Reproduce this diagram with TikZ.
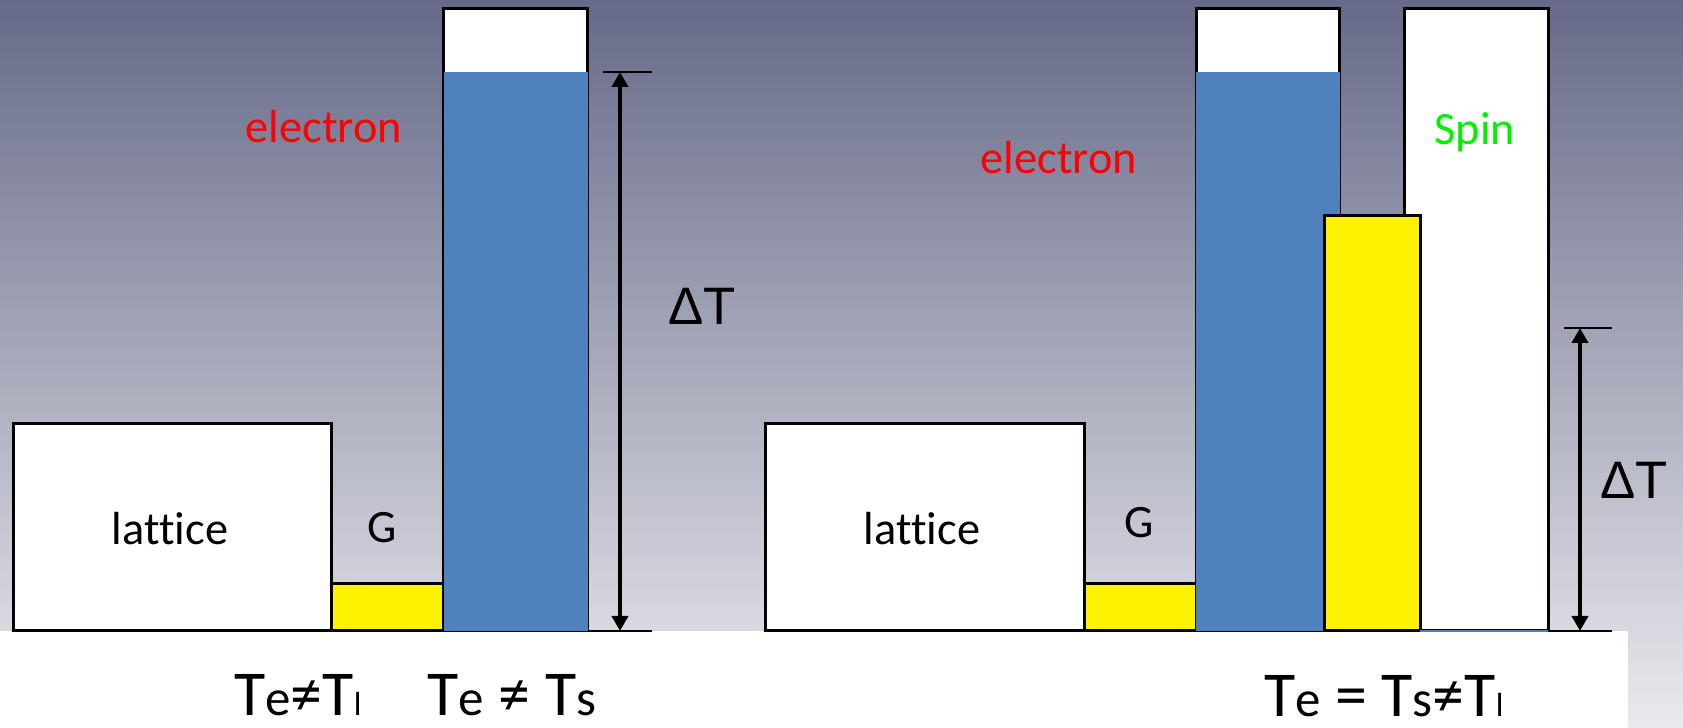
\documentclass[tikz,border=0pt]{standalone}
\usepackage{fontspec}
\setmainfont[Ligatures={TeX,NoCommon}]{Carlito}
\newfontfamily\deltafont{Liberation Sans}
\usepackage{xcolor}
\usetikzlibrary{positioning, arrows.meta}

\definecolor{bgtop}{RGB}{102,106,136}
\definecolor{bgbot}{RGB}{234,234,238}
\definecolor{elblue}{RGB}{79,129,189}
\definecolor{spingreen}{RGB}{0,240,0}

\newcommand{\lowe}[1]{{\fontsize{14.5}{15}\selectfont #1}}
\newcommand{\lowl}[1]{{\fontsize{9.5}{10}\selectfont #1}}

\begin{document}
\begin{tikzpicture}[x=0.1mm, y=-0.1mm, >={Triangle[length=1.5mm, width=1.6mm]},
    box/.style={draw, line width=0.3mm, fill=white, inner sep=0pt, outer sep=0pt, anchor=south west},
    heat/.style={fill=elblue, inner sep=0pt, outer sep=0pt, anchor=south west},
    gap/.style={box, fill=yellow},
    txt/.style={font=\fontsize{13.2}{15}\selectfont, anchor=base, inner sep=0pt},
    temp/.style={font=\fontsize{18.2}{20}\selectfont, anchor=base, inner sep=0pt, text depth=0pt},
    dT/.style={font=\deltafont\fontsize{15}{17}\selectfont, inner sep=0pt},
    tick/.style={line width=0.2mm},
    dim/.style={<->, line width=0.4mm}]

    \shade[top color=bgtop, bottom color=bgbot] (0,0) rectangle (1683,728);
    \fill[white] (0,631) rectangle (1628,728);

    \node[box, minimum width=31.9mm, minimum height=20.7mm] (lat1) at (13,631) {};
    \node[gap, minimum width=11.2mm, minimum height=4.7mm] (g1) at (lat1.south east) {};
    \node[box, minimum width=14.4mm, minimum height=62.2mm] (col1) at (g1.south east) {};
    \node[heat, minimum width=14.4mm, minimum height=55.9mm] (el1) at (col1.south west) {};

    \node[txt, red] (e1) at (324,143) {electron};
    \node[txt] (l1) at (170,545) {lattice};
    \node[txt] (gl1) at (382,543) {G};
    \node[dT] (dt1) at (702,306) {ΔT};

    \coordinate (a1) at (620,72);
    \coordinate (b1) at (620,631);
    \coordinate (a1l) at (603,72);
    \coordinate (a1r) at (652,72);
    \coordinate (b1r) at (652,631);
    \draw[tick] (a1l) -- (a1r);
    \draw[tick] (col1.south east) -- (b1r);
    \draw[dim] (a1) -- (b1);

    \node[box, minimum width=31.9mm, minimum height=20.7mm] (lat2) at (765,631) {};
    \node[gap, minimum width=11.2mm, minimum height=4.7mm] (g2) at (lat2.south east) {};
    \node[box, minimum width=14.4mm, minimum height=62.2mm] (col2) at (g2.south east) {};
    \node[heat, minimum width=14.4mm, minimum height=55.9mm] (el2) at (col2.south west) {};
    \node[box, minimum width=14.4mm, minimum height=62.2mm] (sp) at (1404,631) {};
    \node[gap, minimum width=9.6mm, minimum height=41.5mm] (ts) at (1324,631) {};
    \draw[elblue, line width=0.15mm] (ts.south east) -- (sp.south east);

    \node[txt, red] (e2) at (1059,174) {electron};
    \node[txt, spingreen] (s2) at (1475,145) {Spin};
    \node[txt] (l2) at (922,545) {lattice};
    \node[txt] (gl2) at (1139,538) {G};
    \node[dT] (dt2) at (1634,480) {ΔT};

    \coordinate (a2) at (1580,328);
    \coordinate (b2) at (1580,631);
    \coordinate (a2l) at (1564,328);
    \coordinate (a2r) at (1612,328);
    \coordinate (b2r) at (1612,631);
    \draw[tick] (a2l) -- (a2r);
    \draw[tick] (sp.south east) -- (b2r);
    \draw[dim] (a2) -- (b2);

    \node[temp] (c1) at (298,716) {T\lowe{e}≠T\lowl{l}};
    \node[temp] (c2) at (512,716) {T\lowe{e} ≠ T\lowe{s}};
    \node[temp] (c3) at (1384,717) {T\lowe{e} = T\lowe{s}≠T\lowl{l}};
\end{tikzpicture}
\end{document}
